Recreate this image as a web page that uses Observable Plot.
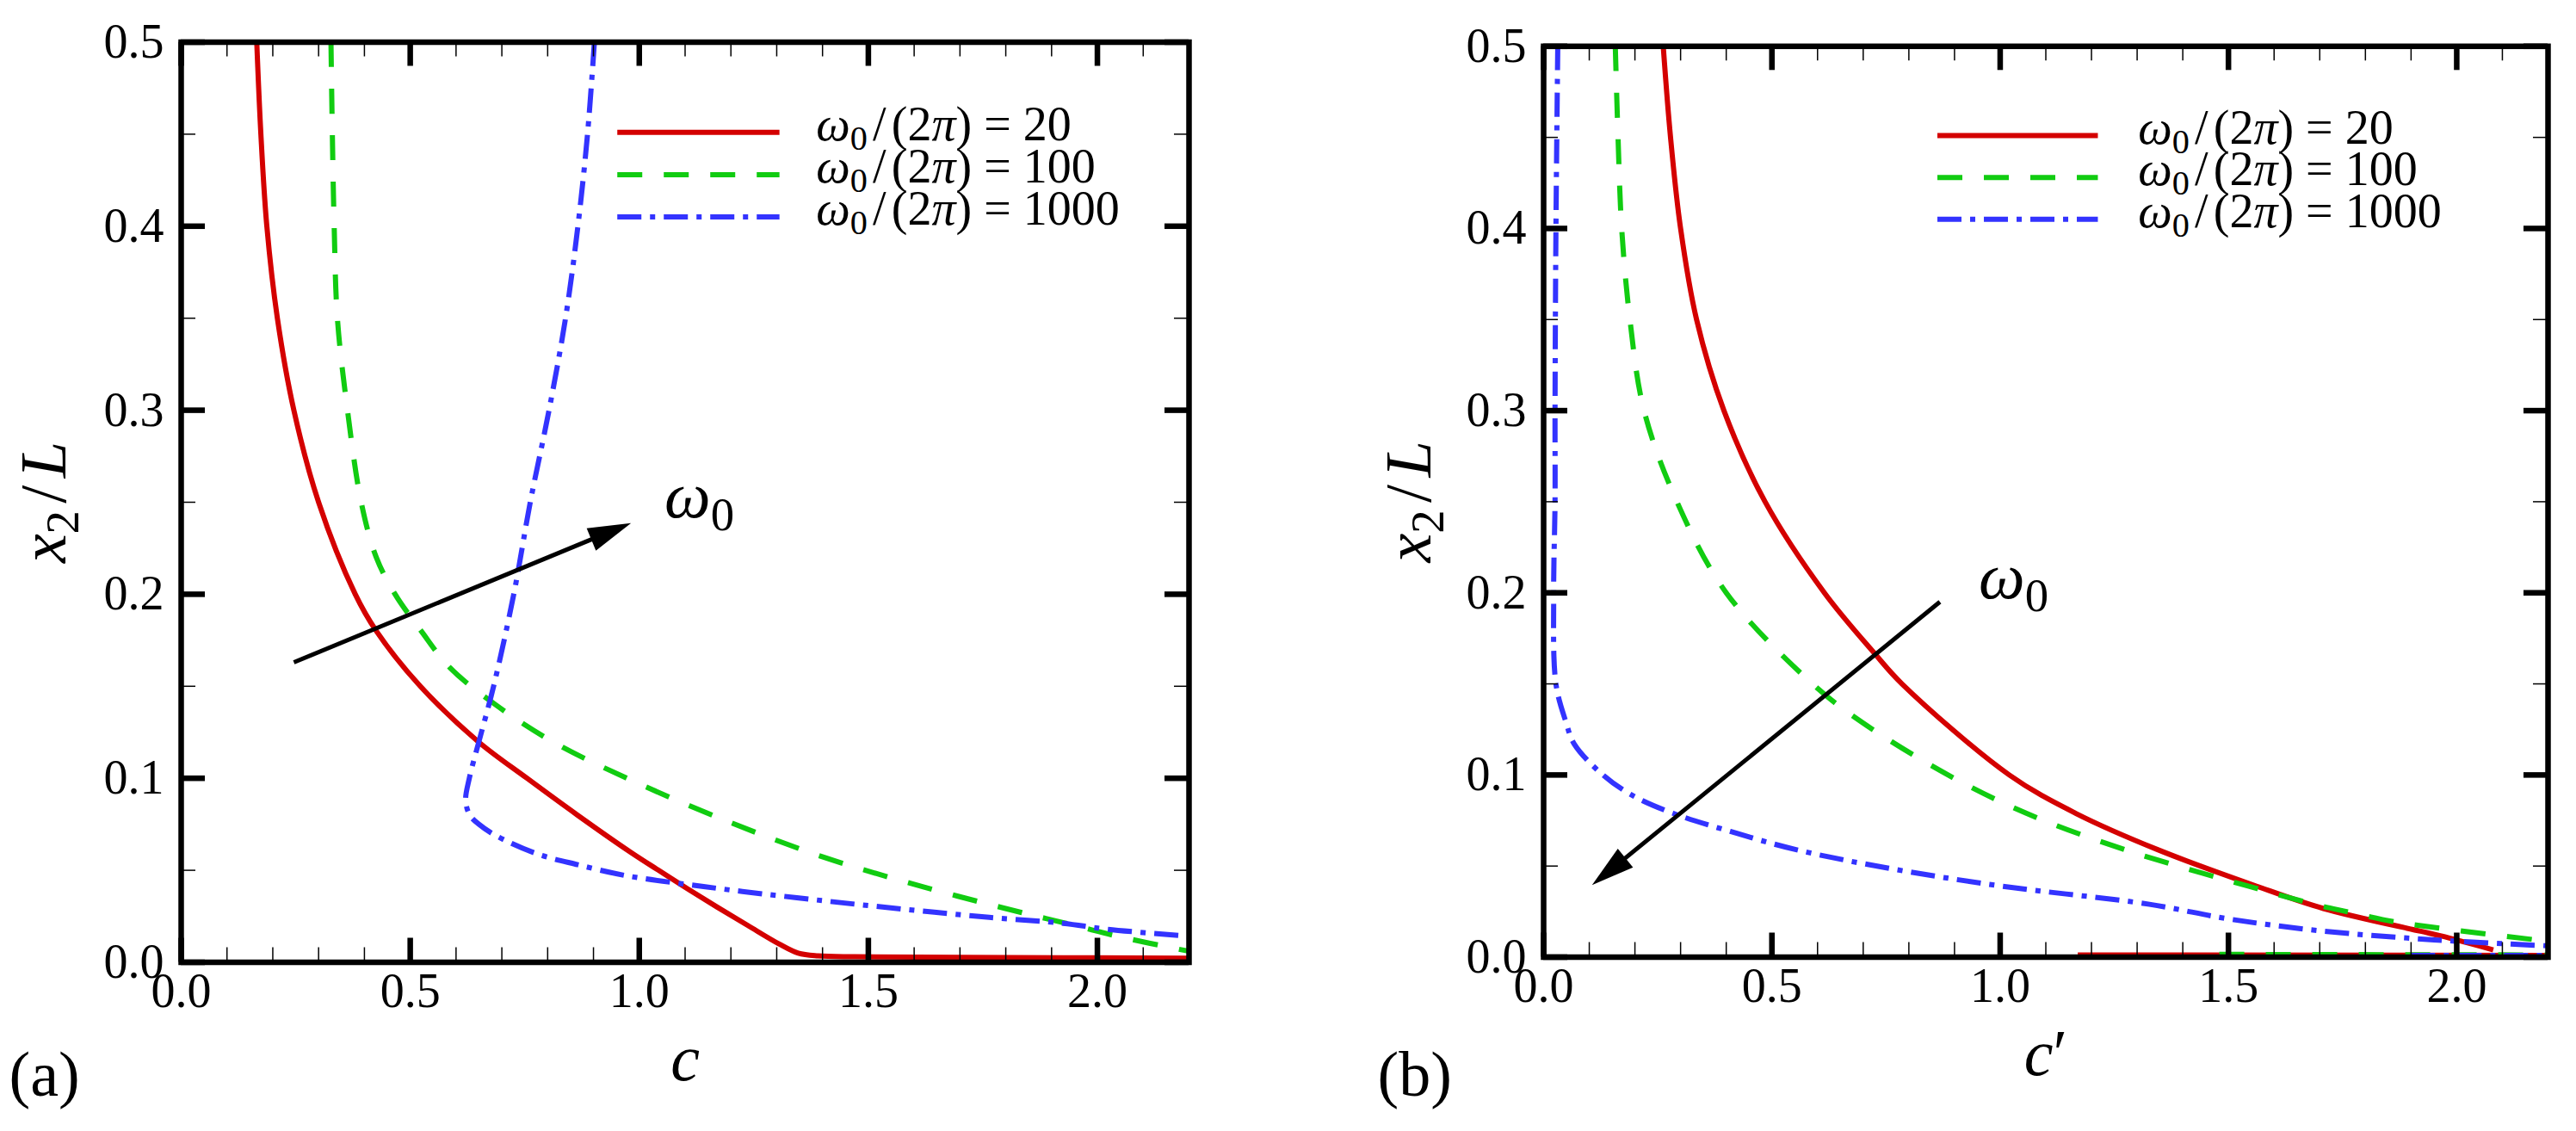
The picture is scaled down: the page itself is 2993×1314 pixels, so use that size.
<!DOCTYPE html>
<html>
<head>
<meta charset="utf-8">
<script src="https://cdn.jsdelivr.net/npm/d3@7"></script>
<script src="https://cdn.jsdelivr.net/npm/@observablehq/plot@0.6"></script>
<style>
body{margin:0;background:#fff;width:2993px;height:1314px;overflow:hidden;position:relative;font-family:"Liberation Serif","DejaVu Serif",serif}
.panel{position:absolute;top:0}
.panel svg text, .panel svg tspan{font-family:"Liberation Serif","DejaVu Serif",serif !important}
</style>
</head>
<body>
<div id="pa" class="panel" style="left:0"></div>
<div id="pb" class="panel" style="left:1496px"></div>
<script>
// ---- data: x2/L (y) and c / c' values ----
// panel (a): c
const yA20 = [0.5, 0.45, 0.4, 0.35, 0.3, 0.25, 0.2, 0.18, 0.15, 0.12, 0.1, 0.08, 0.06, 0.05, 0.04, 0.03, 0.02, 0.01, 0.005, 0.0035, 0.003, 0.0027, 0.0022];
const cA20 = [0.165, 0.174, 0.187, 0.21, 0.246, 0.30, 0.38, 0.426, 0.522, 0.648, 0.755, 0.865, 0.98, 1.042, 1.105, 1.17, 1.237, 1.305, 1.347, 1.39, 1.47, 1.7, 2.2];
const yA100 = [0.5, 0.45, 0.4, 0.35, 0.3, 0.25, 0.22, 0.2, 0.18, 0.16, 0.14, 0.12, 0.1, 0.077, 0.057, 0.041, 0.027, 0.0216, 0.0138, 0.006];
const cA100 = [0.327, 0.33, 0.334, 0.341, 0.363, 0.393, 0.426, 0.467, 0.524, 0.587, 0.686, 0.81, 0.973, 1.189, 1.404, 1.62, 1.835, 1.925, 2.05, 2.2];
const yA1000 = [0.5, 0.45, 0.4, 0.35, 0.3, 0.25, 0.2, 0.15, 0.12, 0.1, 0.088, 0.08, 0.075, 0.069, 0.059, 0.053, 0.047, 0.0425, 0.0385, 0.0334, 0.0287, 0.0244, 0.0212, 0.018, 0.0142];
const cA1000 = [0.902, 0.887, 0.866, 0.839, 0.803, 0.762, 0.726, 0.682, 0.65, 0.629, 0.621, 0.63, 0.65, 0.686, 0.776, 0.866, 0.973, 1.099, 1.225, 1.404, 1.584, 1.764, 1.925, 2.02, 2.2];

// panel (b): c'
const yB20 = [0.5, 0.45, 0.4, 0.35, 0.3, 0.25, 0.2, 0.167, 0.15, 0.1, 0.079, 0.059, 0.039, 0.0267, 0.0142, 0.0116, 0.004];
const cB20 = [0.262, 0.278, 0.30, 0.335, 0.395, 0.485, 0.615, 0.724, 0.785, 1.02, 1.165, 1.345, 1.561, 1.708, 1.921, 1.966, 2.08];
const yB20tail = [0.0012, 0.001];
const cB20tail = [1.17, 2.2];
const yB100 = [0.5, 0.45, 0.4, 0.35, 0.3, 0.25, 0.2, 0.15, 0.129, 0.1, 0.079, 0.059, 0.039, 0.0282, 0.025, 0.0193, 0.0158, 0.0087];
const cB100 = [0.157, 0.163, 0.171, 0.189, 0.22, 0.292, 0.40, 0.589, 0.697, 0.886, 1.057, 1.273, 1.543, 1.70, 1.759, 1.866, 1.966, 2.2];
const yB100tail = [0.0015, 0.0012];
const cB100tail = [1.48, 2.2];
const yB1000 = [0.5, 0.4, 0.3, 0.25, 0.2, 0.15, 0.129, 0.117, 0.1, 0.089, 0.079, 0.069, 0.059, 0.049, 0.039, 0.029, 0.021, 0.0145, 0.0095, 0.0062];
const cB1000 = [0.031, 0.027, 0.025, 0.025, 0.022, 0.027, 0.049, 0.067, 0.13, 0.193, 0.283, 0.409, 0.553, 0.751, 1.003, 1.327, 1.5, 1.7, 1.95, 2.2];
const yB1000tail = [0.001, 0.001];
const cB1000tail = [1.9, 2.2];

const seriesKeys = ["20", "100", "1000"];
const seriesLabels = ["ω0/(2π) = 20", "ω0/(2π) = 100", "ω0/(2π) = 1000"];
const seriesColors = ["#d40000", "#11cc11", "#3333ff"];
const seriesDash = [null, "29,25", "28,10,6,10"];

const xMajor = [0, 0.5, 1.0, 1.5, 2.0];
const yMajor = [0, 0.1, 0.2, 0.3, 0.4, 0.5];
const xMinor = [0.1, 0.2, 0.3, 0.4, 0.6, 0.7, 0.8, 0.9, 1.1, 1.2, 1.3, 1.4, 1.6, 1.7, 1.8, 1.9, 2.1];
const yMinor = [0.05, 0.15, 0.25, 0.35, 0.45];

// annotations: arrow [x1, y1, x2, y2] and ω0 label [x, y]
const arrowA = [0.246, 0.163, 0.956, 0.236];
const omegaA = [1.055, 0.242];
const arrowB = [0.868, 0.195, 0.128, 0.044];
const omegaB = [0.953, 0.197];

const FONT = "'Liberation Serif', 'DejaVu Serif', serif";
const mathText = new Set([...seriesLabels, "c", "c′", "x2/L", "ω0"]);

function toRows(segments) {
  return segments.flatMap(([ys, cs], s) => ys.map((y, i) => ({y, c: cs[i], seg: s})));
}

const curvesA = {
  "20": toRows([[yA20, cA20]]),
  "100": toRows([[yA100, cA100]]),
  "1000": toRows([[yA1000, cA1000]])
};
const curvesB = {
  "20": toRows([[yB20, cB20], [yB20tail, cB20tail]]),
  "100": toRows([[yB100, cB100], [yB100tail, cB100tail]]),
  "1000": toRows([[yB1000, cB1000], [yB1000tail, cB1000tail]])
};

// filled triangular arrow head
function arrowHead(color) {
  const m = d3.create("svg:marker")
    .attr("viewBox", "-7 -2.8 10 5.6")
    .attr("markerWidth", 10)
    .attr("markerHeight", 5.6)
    .attr("orient", "auto")
    .attr("overflow", "visible");
  m.append("path").attr("d", "M-7,-2.8L3,0L-7,2.8Z").attr("fill", color).attr("stroke", "none");
  return m.node();
}

function panel(cfg) {
  const H = 1314;
  const fw = cfg.width - cfg.ml - cfg.mr;
  const fh = H - cfg.mt - cfg.mb;
  const marks = [];

  seriesKeys.forEach((k, i) => {
    marks.push(Plot.line(cfg.curves[k], {
      x: "c", y: "y", z: "seg",
      stroke: seriesColors[i], strokeWidth: 6,
      strokeDasharray: seriesDash[i], strokeLinecap: "butt",
      curve: "catmull-rom", clip: true
    }));
    // legend key
    marks.push(Plot.line([{c: cfg.legend[0], y: cfg.legendRows[i]}, {c: cfg.legend[1], y: cfg.legendRows[i]}], {
      x: "c", y: "y", stroke: seriesColors[i], strokeWidth: 6,
      strokeDasharray: seriesDash[i], strokeLinecap: "butt"
    }));
    marks.push(Plot.text([seriesLabels[i]], {
      x: cfg.legend[2], y: cfg.legendRows[i], text: d => d,
      textAnchor: "start", lineAnchor: "bottom", dy: 9, fontSize: 56, fontFamily: FONT
    }));
  });

  // arrow + label
  marks.push(Plot.link([cfg.arrow], {
    x1: d => d[0], y1: d => d[1], x2: d => d[2], y2: d => d[3],
    stroke: "black", strokeWidth: 5, strokeLinecap: "butt", markerEnd: arrowHead
  }));
  marks.push(Plot.text([cfg.omega], {
    x: d => d[0], y: d => d[1], text: () => "ω0",
    textAnchor: "start", lineAnchor: "bottom", fontSize: 76, fontFamily: FONT
  }));

  // inward ticks on all four sides
  const MJ = 28, MN = 17;
  marks.push(
    Plot.ruleX(xMajor, {x: d => d, insetTop: fh - MJ, strokeWidth: 6.5}),
    Plot.ruleX(xMajor, {x: d => d, insetBottom: fh - MJ, strokeWidth: 6.5}),
    Plot.ruleX(xMinor, {x: d => d, insetTop: fh - MN, strokeWidth: 1.5}),
    Plot.ruleX(xMinor, {x: d => d, insetBottom: fh - MN, strokeWidth: 1.5}),
    Plot.ruleY(yMajor, {y: d => d, insetRight: fw - MJ, strokeWidth: 6.5}),
    Plot.ruleY(yMajor, {y: d => d, insetLeft: fw - MJ, strokeWidth: 6.5}),
    Plot.ruleY(yMinor, {y: d => d, insetRight: fw - MN, strokeWidth: 1.5}),
    Plot.ruleY(yMinor, {y: d => d, insetLeft: fw - MN, strokeWidth: 1.5}),
    Plot.frame({stroke: "black", strokeWidth: 6.5}),
    Plot.axisX({ticks: xMajor, tickFormat: d3.format(".1f"), tickSize: 0, tickPadding: 12, label: null, fontSize: 56, fontFamily: FONT}),
    Plot.axisY({ticks: yMajor, tickFormat: d3.format(".1f"), tickSize: 0, tickPadding: 20, label: null, fontSize: 56, fontFamily: FONT}),
    Plot.text([cfg.xLabel], {frameAnchor: "bottom", text: d => d, lineAnchor: "bottom", dy: 136.5, fontSize: 76, fontFamily: FONT}),
    Plot.text(["x2/L"], {frameAnchor: "left", text: d => d, rotate: -90, textAnchor: "middle", lineAnchor: "middle", dx: cfg.yLabelDx, fontSize: 76, fontFamily: FONT}),
    Plot.text([cfg.tag], {frameAnchor: "bottom-left", text: d => d, textAnchor: "start", lineAnchor: "bottom", dx: cfg.tagDx, dy: cfg.tagDy, fontSize: 74, fontFamily: FONT})
  );

  return Plot.plot({
    width: cfg.width, height: H,
    marginLeft: cfg.ml, marginRight: cfg.mr, marginTop: cfg.mt, marginBottom: cfg.mb,
    x: {domain: [0, 2.2]},
    y: {domain: [0, 0.5]},
    style: {fontFamily: FONT, fontSize: "56px", color: "black", background: "white", overflow: "visible"},
    marks
  });
}

// math-style text: italic letters, subscript digits after letters, spaced slash
function texify(root) {
  d3.select(root).selectAll("text").each(function () {
    const s = this.textContent;
    if (!mathText.has(s)) return;
    const fs = parseFloat(getComputedStyle(this).fontSize) || 56;
    const shift = 0.2 * fs;
    const gap = 0.11 * fs;
    const t = d3.select(this);
    t.text(null);
    let prevLetter = false, down = false, afterSlash = false;
    for (const ch of s) {
      const letter = /[A-Za-zωπ]/.test(ch);
      const sub = /[0-9]/.test(ch) && (prevLetter || down);
      const ts = t.append("tspan").text(ch);
      if (letter) ts.attr("font-style", "italic");
      if (sub && !down) { ts.attr("dy", shift); down = true; }
      else if (!sub && down) { ts.attr("dy", -shift); down = false; }
      if (sub) ts.attr("font-size", "0.72em");
      if (ch === "/" || afterSlash) ts.attr("dx", gap);
      afterSlash = ch === "/";
      prevLetter = letter;
    }
  });
}

const legendRows = [0.451, 0.428, 0.405];

const chartA = panel({
  width: 1496, ml: 210, mr: 115, mt: 48.5, mb: 196.5,
  curves: curvesA, legend: [0.952, 1.306, 1.386], legendRows,
  arrow: arrowA, omega: omegaA, xLabel: "c", tag: "(a)",
  yLabelDx: -159, tagDx: -200, tagDy: 154.5
});
const chartB = panel({
  width: 1497, ml: 297, mr: 33, mt: 53.3, mb: 202.5,
  curves: curvesB, legend: [0.8625, 1.214, 1.302], legendRows,
  arrow: arrowB, omega: omegaB, xLabel: "c′", tag: "(b)",
  yLabelDx: -156, tagDx: -193, tagDy: 160.5
});

d3.select("#pa").append(() => chartA);
d3.select("#pb").append(() => chartB);
texify(chartA);
texify(chartB);
</script>
</body>
</html>
